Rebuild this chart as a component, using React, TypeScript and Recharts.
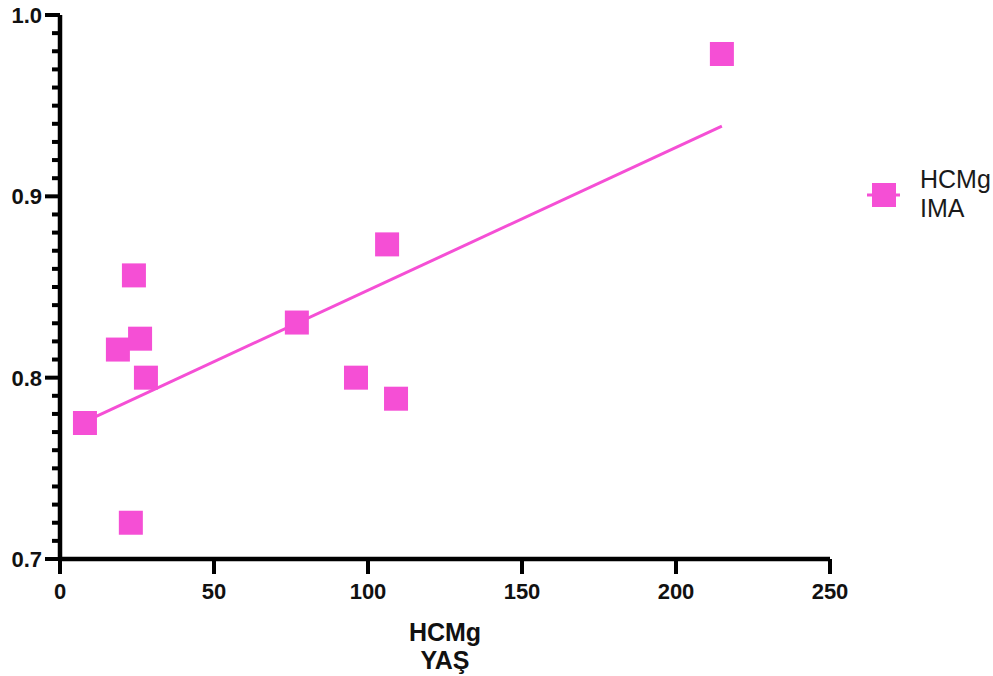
import React from 'react';
import { ScatterChart, Scatter, XAxis, YAxis, Legend } from 'recharts';

// Data
const xValues = [8.1, 23.0, 18.8, 24.0, 26.0, 27.9, 76.9, 96.1, 106.2, 109.1, 214.9];
const yValues = [0.775, 0.72, 0.8155, 0.8564, 0.8215, 0.8, 0.8304, 0.8, 0.8735, 0.7884, 0.9785];
const fitX = [8.1, 214.9];
const fitY = [0.7758, 0.9387];

const xTicks = [0, 50, 100, 150, 200, 250];
const yMajorTicks = [0.7, 0.8, 0.9, 1.0];
const yMajorLabels = ['0.7', '0.8', '0.9', '1.0'];
const yMinorTicks = [
  0.71, 0.72, 0.73, 0.74, 0.75, 0.76, 0.77, 0.78, 0.79,
  0.81, 0.82, 0.83, 0.84, 0.85, 0.86, 0.87, 0.88, 0.89,
  0.91, 0.92, 0.93, 0.94, 0.95, 0.96, 0.97, 0.98, 0.99,
];

const seriesName = 'HCMg IMA';
const xTitle = ['HCMg', 'YAŞ'];
const legendLines = ['HCMg', 'IMA'];

const PINK = '#F54FD5';
const FONT = '"Liberation Sans", Arial, Helvetica, sans-serif';
const AXIS_W = 4.5;
const TICK_W = 4;

const points = xValues.map((x, i) => ({ x, y: yValues[i] }));
const fitLine = fitX.map((x, i) => ({ x, y: fitY[i] }));
const yAllTicks = [...yMajorTicks, ...yMinorTicks].sort((a, b) => a - b);

const majorIndex = (v: number) =>
  yMajorTicks.findIndex((m) => Math.abs(m - v) < 1e-6);

const SquareShape = (props: any) => {
  const { cx, cy } = props;
  if (cx == null || cy == null) return <g />;
  const s = 24;
  return <rect x={cx - s / 2} y={cy - s / 2} width={s} height={s} fill={PINK} />;
};

const NoShape = () => <g />;

const YTick = (props: any) => {
  const { x, y, payload } = props;
  const idx = majorIndex(payload.value);
  const major = idx >= 0;
  return (
    <g>
      <line x1={x - (major ? 15 : 8)} x2={x} y1={y} y2={y} stroke="#000" strokeWidth={TICK_W} />
      {major && (
        <text
          x={x - 18}
          y={y}
          dy={8}
          textAnchor="end"
          fontFamily={FONT}
          fontWeight="bold"
          fontSize={22}
          fill="#111"
        >
          {yMajorLabels[idx]}
        </text>
      )}
    </g>
  );
};

const XTick = (props: any) => {
  const { x, y, payload } = props;
  return (
    <g>
      <line x1={x} x2={x} y1={y} y2={y + 15} stroke="#000" strokeWidth={TICK_W} />
      <text
        x={x}
        y={y + 40}
        textAnchor="middle"
        fontFamily={FONT}
        fontWeight="bold"
        fontSize={22}
        fill="#111"
      >
        {payload.value}
      </text>
    </g>
  );
};

const XTitle = (props: any) => {
  const vb = props.viewBox || {};
  const cx = vb.x + vb.width / 2;
  return (
    <text
      x={cx}
      y={vb.y}
      textAnchor="middle"
      fontFamily={FONT}
      fontWeight="bold"
      fontSize={25}
      fill="#111"
    >
      <tspan x={cx} dy={82}>{xTitle[0]}</tspan>
      <tspan x={cx} dy={28}>{xTitle[1]}</tspan>
    </text>
  );
};

const LegendContent = () => (
  <svg width={133} height={70} aria-label={seriesName}>
    <line x1={7} x2={40} y1={35} y2={35} stroke={PINK} strokeWidth={3} />
    <rect x={12} y={23} width={24} height={24} fill={PINK} />
    <text x={60} y={28} fontFamily={FONT} fontSize={25} fill="#1a1a1a">
      {legendLines[0]}
    </text>
    <text x={60} y={57} fontFamily={FONT} fontSize={25} fill="#1a1a1a">
      {legendLines[1]}
    </text>
  </svg>
);

export default function App() {
  return (
    <div style={{ position: 'absolute', left: 0, top: 0, width: 993, height: 676, background: '#fff' }}>
      <ScatterChart
        width={993}
        height={676}
        margin={{ top: 15, right: 163, bottom: 0, left: 0 }}
      >
        <XAxis
          type="number"
          dataKey="x"
          domain={[0, 250]}
          ticks={xTicks}
          interval={0}
          height={117}
          axisLine={{ stroke: '#000', strokeWidth: AXIS_W }}
          tickLine={false}
          tickSize={0}
          tickMargin={0}
          tick={<XTick />}
          label={<XTitle />}
          allowDataOverflow
        />
        <YAxis
          type="number"
          dataKey="y"
          domain={[0.7, 1.0]}
          ticks={yAllTicks}
          interval={0}
          width={60}
          axisLine={{ stroke: '#000', strokeWidth: AXIS_W }}
          tickLine={false}
          tickSize={0}
          tickMargin={0}
          tick={<YTick />}
          allowDataOverflow
        />
        <Legend
          layout="horizontal"
          verticalAlign="middle"
          align="center"
          content={<LegendContent />}
          wrapperStyle={{ position: 'absolute', left: 860, top: 160, width: 133, height: 70 }}
        />
        <Scatter
          name="fit"
          data={fitLine}
          line={{ stroke: PINK, strokeWidth: 3 }}
          shape={<NoShape />}
          legendType="none"
          isAnimationActive={false}
        />
        <Scatter
          name={seriesName}
          data={points}
          fill={PINK}
          shape={<SquareShape />}
          isAnimationActive={false}
        />
      </ScatterChart>
    </div>
  );
}
